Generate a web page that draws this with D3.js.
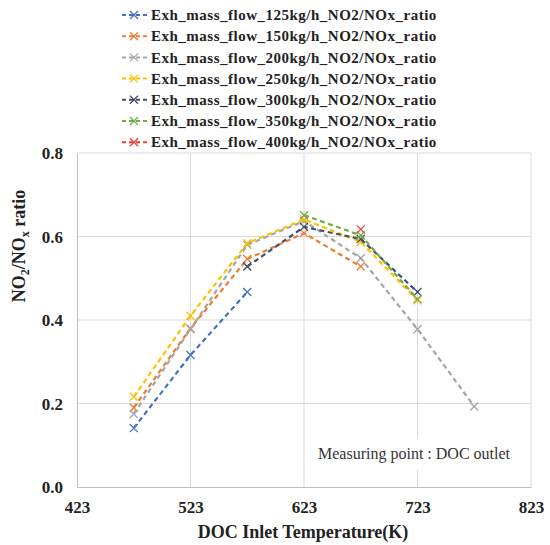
<!DOCTYPE html>
<html><head><meta charset="utf-8">
<script src="https://cdn.jsdelivr.net/npm/d3@7"></script>
<style>body{margin:0;background:#fff}svg{display:block}</style>
</head><body>
<svg id="c" width="550" height="545"></svg>
<script>
const temps = [473, 523, 573, 623, 673, 723, 773];
const flow125 = [0.141, 0.316, 0.467, null, null, null, null];
const flow150 = [0.190, 0.380, 0.546, 0.608, 0.528, null, null];
const flow200 = [0.175, 0.378, 0.580, 0.637, 0.548, 0.378, 0.193];
const flow250 = [0.216, 0.410, 0.584, 0.641, 0.587, 0.447, null];
const flow300 = [null, null, 0.528, 0.623, 0.594, 0.467, null];
const flow350 = [null, null, null, 0.651, 0.603, 0.450, null];
const flow400 = [null, null, null, null, 0.617, null, null];
const seriesNames = ["Exh_mass_flow_125kg/h_NO2/NOx_ratio","Exh_mass_flow_150kg/h_NO2/NOx_ratio","Exh_mass_flow_200kg/h_NO2/NOx_ratio","Exh_mass_flow_250kg/h_NO2/NOx_ratio","Exh_mass_flow_300kg/h_NO2/NOx_ratio","Exh_mass_flow_350kg/h_NO2/NOx_ratio","Exh_mass_flow_400kg/h_NO2/NOx_ratio"];
const colors = ["#4472C4","#ED7D31","#A5A5A5","#FFC000","#3F4E6E","#70AD47","#F23C3C"];
const xTicks = [423, 523, 623, 723, 823];
const yTicks = [0.0, 0.2, 0.4, 0.6, 0.8];
const allSeries = [flow125, flow150, flow200, flow250, flow300, flow350, flow400];

const svg = d3.select("#c");
const L = 77, R = 531, T = 153, B = 487;
const x = d3.scaleLinear().domain([423, 823]).range([L, R]);
const y = d3.scaleLinear().domain([0, 0.8]).range([B, T]);
const serif = "'Liberation Serif','Times New Roman',serif";

// grid
const g = svg.append("g");
g.selectAll("line.h").data(yTicks.filter(d => d > 0)).enter().append("line")
  .attr("x1", L).attr("x2", R).attr("y1", d => y(d)).attr("y2", d => y(d))
  .attr("stroke", "#D9D9D9").attr("stroke-width", 1);
g.selectAll("line.v").data(xTicks.filter(d => d > 423)).enter().append("line")
  .attr("y1", T).attr("y2", B).attr("x1", d => x(d)).attr("x2", d => x(d))
  .attr("stroke", "#D9D9D9").attr("stroke-width", 1);

// axes
const xAxis = d3.axisBottom(x).tickValues(xTicks).tickSize(0).tickFormat(d3.format("d"));
const xa = svg.append("g").attr("transform", `translate(0,${B})`).call(xAxis);
xa.select(".domain").attr("stroke", "#BFBFBF");
xa.selectAll("text").attr("font-family", serif).attr("font-weight", "bold").attr("font-size", 17)
  .attr("fill", "#222").attr("dy", "1.35em");
const yAxis = d3.axisLeft(y).tickValues(yTicks).tickSize(0).tickFormat(d3.format(".1f"));
const ya = svg.append("g").attr("transform", `translate(${L},0)`).call(yAxis);
ya.select(".domain").attr("stroke", "#BFBFBF");
ya.selectAll("text").attr("font-family", serif).attr("font-weight", "bold").attr("font-size", 17)
  .attr("fill", "#222").attr("x", -14).attr("dy", "0.35em");

// annotation box
svg.append("rect").attr("x", 308).attr("y", 438).attr("width", 216).attr("height", 32).attr("fill", "#fff");
svg.append("text").attr("x", 318).attr("y", 459).attr("font-family", serif).attr("font-size", 16)
  .attr("fill", "#333").text("Measuring point : DOC outlet");

// series
const line = d3.line().defined(d => d.v != null).x(d => x(d.t)).y(d => y(d.v));
function cross(sel, cx, cy, col) {
  const s = 4;
  sel.append("path").attr("d", `M${cx-s},${cy-s}L${cx+s},${cy+s}M${cx-s},${cy+s}L${cx+s},${cy-s}`)
    .attr("stroke", col).attr("stroke-width", 1.3).attr("fill", "none");
}
allSeries.forEach((vals, i) => {
  const pts = temps.map((t, j) => ({t, v: vals[j]}));
  const sg = svg.append("g");
  sg.append("path").datum(pts).attr("d", line).attr("fill", "none")
    .attr("stroke", colors[i]).attr("stroke-width", 2.2).attr("stroke-dasharray", "5,3.5");
  pts.filter(d => d.v != null).forEach(d => cross(sg, x(d.t), y(d.v), colors[i]));
});

// legend
const lg = svg.append("g");
seriesNames.forEach((n, i) => {
  const yy = 15 + i * 21.2;
  lg.append("line").attr("x1", 122).attr("x2", 148).attr("y1", yy).attr("y2", yy)
    .attr("stroke", colors[i]).attr("stroke-width", 2).attr("stroke-dasharray", "4,3");
  cross(lg, 134, yy, colors[i]);
  lg.append("text").attr("x", 151).attr("y", yy).attr("dy", "0.35em")
    .attr("font-family", serif).attr("font-weight", "bold").attr("font-size", 15)
    .attr("letter-spacing", 0.5).attr("fill", "#222").text(n);
});

// axis titles
svg.append("text").attr("x", (L + R) / 2 - 1).attr("y", 538).attr("text-anchor", "middle")
  .attr("font-family", serif).attr("font-weight", "bold").attr("font-size", 18).attr("fill", "#222")
  .text("DOC Inlet Temperature(K)");
const yt = svg.append("text").attr("transform", "translate(25,246) rotate(-90)").attr("text-anchor", "middle")
  .attr("font-family", serif).attr("font-weight", "bold").attr("font-size", 18).attr("fill", "#222");
yt.append("tspan").text("NO");
yt.append("tspan").attr("font-size", 12).attr("dy", 4).text("2");
yt.append("tspan").attr("dy", -4).text("/NO");
yt.append("tspan").attr("font-size", 12).attr("dy", 4).text("x");
yt.append("tspan").attr("dy", -4).text(" ratio");
</script>
</body></html>
